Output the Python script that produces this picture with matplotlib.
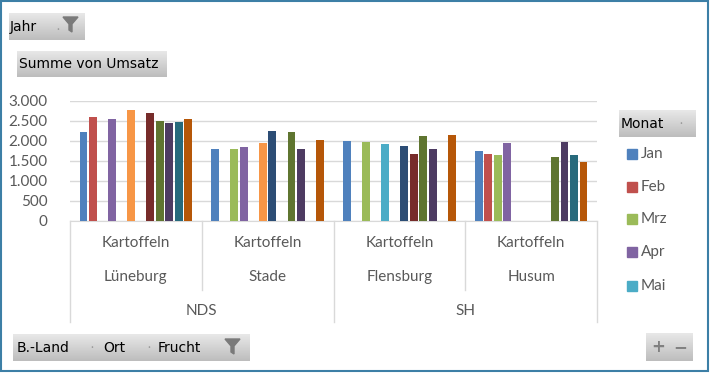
import numpy as np
import matplotlib
matplotlib.use('Agg')
import matplotlib.pyplot as plt
from matplotlib.patches import Rectangle, Polygon
from matplotlib.transforms import blended_transform_factory

plt.rcParams['font.family'] = ['Lato', 'DejaVu Sans']

# pivot data: B.-Land / Ort / Frucht x Monat
laender = ['NDS', 'SH']
orte = ['Lüneburg', 'Stade', 'Flensburg', 'Husum']
ort_land = ['NDS', 'NDS', 'SH', 'SH']
frucht = ['Kartoffeln', 'Kartoffeln', 'Kartoffeln', 'Kartoffeln']
monate = ['Jan', 'Feb', 'Mrz', 'Apr', 'Mai', 'Jun',
          'Jul', 'Aug', 'Sep', 'Okt', 'Nov', 'Dez']
farben = ['#4F81BD', '#C0504D', '#9BBB59', '#8064A2', '#4BACC6', '#F79646',
          '#2C4D75', '#772C2A', '#5F7530', '#4D3B62', '#276A7C', '#B65708']
nan = np.nan
# Summe von Umsatz, rows = Ort, cols = Monat (nan = no entry)
umsatz = np.array([
    [2210, 2590, nan, 2540, nan, 2770, nan, 2690, 2500, 2450, 2470, 2540],
    [1800, nan, 1800, 1850, nan, 1940, 2240, nan, 2220, 1800, nan, 2020],
    [1990, nan, 1970, nan, 1920, nan, 1870, 1670, 2120, 1800, nan, 2140],
    [1740, 1670, 1640, 1950, nan, nan, nan, nan, 1600, 1970, 1640, 1470],
])
yticks = [0, 500, 1000, 1500, 2000, 2500, 3000]
legend_rows = 5   # Excel legend is cut off after Mai

W, H = 710, 373
fig = plt.figure(figsize=(W / 100, H / 100), dpi=100)
fig.patch.set_facecolor('white')

# overlay in pixel coords for the pivot buttons / frame
ov = fig.add_axes([0, 0, 1, 1])
ov.set_xlim(0, W)
ov.set_ylim(H, 0)
ov.axis('off')
ov.patch.set_alpha(0)

grad = np.linspace(0, 1, 50).reshape(-1, 1)
btn_cmap = matplotlib.colors.LinearSegmentedColormap.from_list('btn', ['#E8E8E8', '#BDBDBD'])


def button(x0, y0, x1, y1):
    ov.imshow(grad, cmap=btn_cmap, extent=(x0, x1, y1, y0), aspect='auto', zorder=1)


def funnel(x0, y0):
    pts = [(x0, y0), (x0 + 15, y0), (x0 + 9, y0 + 7), (x0 + 9, y0 + 15),
           (x0 + 6, y0 + 13), (x0 + 6, y0 + 7)]
    ov.add_patch(Polygon(pts, closed=True, color='#7A7A7A', zorder=3))


btxt = dict(family='DejaVu Sans', fontsize=10, color='black', va='center', zorder=3)
dot = dict(fontsize=8, color='#999999', ha='center', va='center', zorder=3)

# Jahr
button(9, 13, 85, 40)
ov.text(10, 27, 'Jahr', **btxt)
ov.text(58, 29, '·', **dot)
funnel(63, 17)

# Summe von Umsatz
button(17, 51, 167, 77)
ov.text(19, 64, 'Summe von Umsatz', **btxt)

# Monat
button(619, 110, 696, 137)
ov.text(621, 124, 'Monat', **btxt)
ov.text(681, 124, '·', **dot)

# B.-Land / Ort / Frucht
button(13, 334, 250, 361)
ov.text(17, 348, 'B.-Land', **btxt)
ov.text(92, 348, '·', **dot)
ov.text(103, 348, 'Ort', **btxt)
ov.text(149, 348, '·', **dot)
ov.text(158, 348, 'Frucht', **btxt)
funnel(225, 339)

# + -
button(646, 333, 693, 361)
ov.text(658, 347, '+', fontsize=12, fontweight='bold', color='#808080',
        ha='center', va='center', family='DejaVu Sans', zorder=3)
ov.text(680, 347, '\u2212', fontsize=12, fontweight='bold', color='#808080',
        ha='center', va='center', family='DejaVu Sans', zorder=3)

# frame
ov.add_patch(Rectangle((1, 1), 707, 370, fill=False, edgecolor='#3C7FA6', lw=1.5, zorder=4))

# legend (first rows only, like the reference)
leg_y = [154, 187, 219, 252, 286]
for m in range(legend_rows):
    ov.add_patch(Rectangle((627, leg_y[m] - 5), 10, 10, color=farben[m], zorder=3))
    ov.text(641, leg_y[m], monate[m], fontsize=11, color='#595959', va='center', zorder=3)

# main chart
ax_l, ax_r, ax_b, ax_t = 70, 597, 221, 100.7
ax = fig.add_axes([ax_l / W, 1 - ax_b / H, (ax_r - ax_l) / W, (ax_b - ax_t) / H])
ax.patch.set_alpha(0)

x = np.arange(len(orte))
slot = 9.52 / 131.75
bw = 7.8 / 131.75
for m, name in enumerate(monate):
    ax.bar(x + (m - 5.5) * slot, umsatz[:, m], bw, color=farben[m], label=name, zorder=3)

ax.set_xlim(-0.5, len(orte) - 0.5)
ax.set_ylim(0, 3000)
ax.set_yticks(yticks)
ax.set_yticklabels([f'{v:,}'.replace(',', '.') for v in yticks])
ax.tick_params(axis='y', length=0, pad=16, labelsize=11, labelcolor='#595959')
ax.tick_params(axis='x', length=0)
ax.set_xticks([])
ax.grid(axis='y', color='#D9D9D9', lw=1, zorder=0)
for s in ['left', 'right', 'top']:
    ax.spines[s].set_visible(False)
ax.spines['bottom'].set_color('#D9D9D9')

# multi-level category axis
ppx = 1.0 / (ax_b - ax_t)
trans = blended_transform_factory(ax.transData, ax.transAxes)
lab = dict(fontsize=11, color='#595959', ha='center', va='center',
           transform=trans, clip_on=False)
for i in range(len(orte)):
    ax.text(x[i], -(243 - ax_b) * ppx, frucht[i], **lab)
    ax.text(x[i], -(277 - ax_b) * ppx, orte[i], **lab)
for land in laender:
    idx = [i for i, l in enumerate(ort_land) if l == land]
    ax.text(np.mean(idx), -(311 - ax_b) * ppx, land, **lab)

for b in np.arange(len(orte) + 1) - 0.5:
    outer = b in (-0.5, len(orte) - 0.5) or ort_land[int(b - 0.5)] != ort_land[int(b + 0.5)]
    y_end = 322 if outer else 290
    ax.plot([b, b], [0, -(y_end - ax_b) * ppx], color='#D9D9D9', lw=1,
            transform=trans, clip_on=False)

fig.savefig('out.png', dpi=100)
